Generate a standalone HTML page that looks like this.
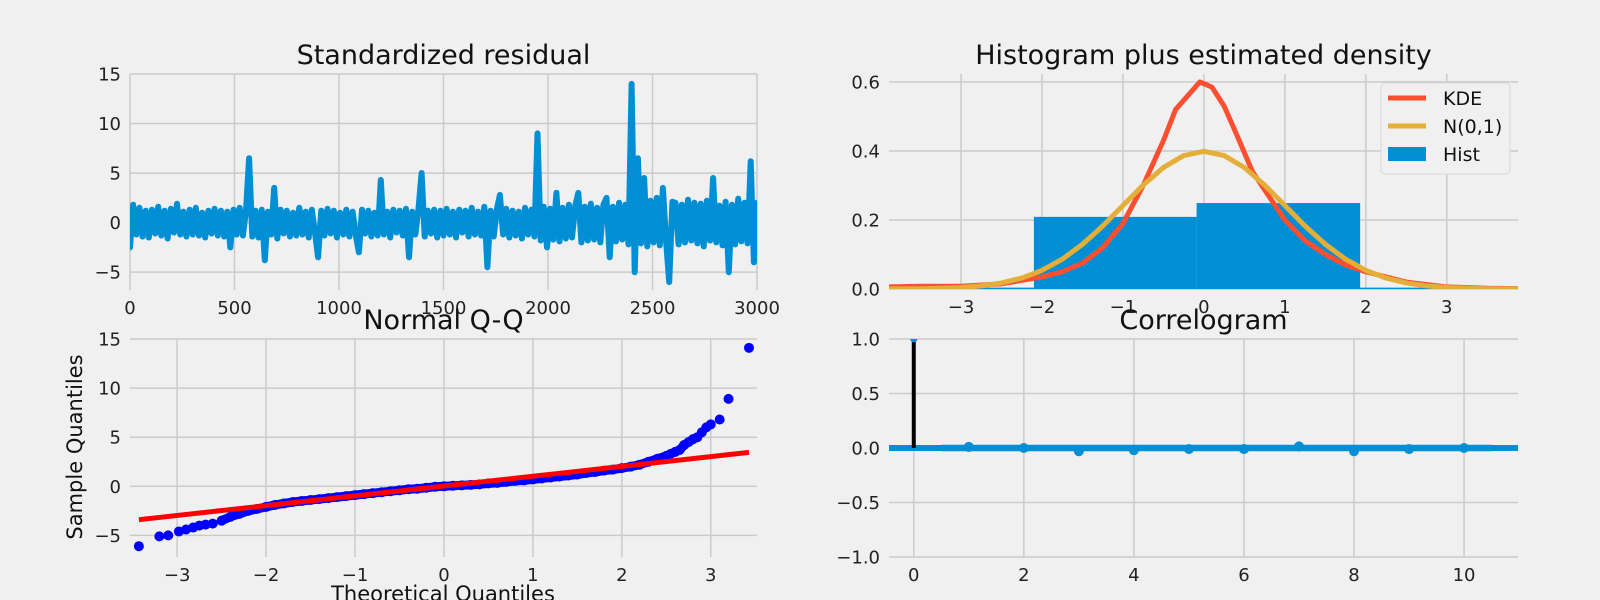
<!DOCTYPE html>
<html><head><meta charset="utf-8"><style>
html,body{margin:0;padding:0;background:#f0f0f0;}
svg{display:block;font-family:"DejaVu Sans","Liberation Sans",sans-serif;}
</style></head><body>
<svg id="fig" width="1600" height="600" viewBox="0 0 1600 600"></svg>
<script>
// ---- data ----
const residStep = 15;
const residVals = [-2.5,1.8,-1.2,1.5,-1.4,1.2,-1.5,1.3,-1.1,1.6,
-1.3,1.2,-1.6,1.4,-1.0,1.9,-1.2,1.1,-1.4,1.3,
-1.2,1.5,-1.3,1.0,-1.5,1.2,-1.1,1.4,-1.3,1.2,
-1.4,1.1,-2.5,1.3,-1.2,1.5,-1.3,1.2,6.5,-1.4,
1.2,-1.5,1.3,-3.8,1.1,-1.2,3.5,-1.6,1.3,-1.1,
1.2,-1.4,1.0,-1.3,1.5,-1.2,1.1,-1.5,1.3,-1.0,
-3.5,1.2,-1.3,1.4,-1.1,1.2,-1.5,1.0,-1.2,1.3,
-1.4,1.1,-1.2,-3.0,1.3,-1.1,1.2,-1.4,1.0,-1.3,
4.3,-1.2,1.1,-1.5,1.3,-1.0,1.2,-1.3,1.4,-3.5,
1.1,-1.2,1.3,5.0,-1.4,1.2,-1.1,1.3,-1.5,1.2,
-1.3,1.4,-1.2,1.1,-1.5,1.3,-1.0,1.2,-1.4,1.5,
-1.2,1.1,-1.3,1.6,-4.5,1.2,-1.4,1.3,2.8,-1.2,
1.4,-1.5,1.2,-1.3,1.1,-1.6,1.5,-1.2,1.3,-1.4,
9.0,-1.8,1.6,-2.5,1.4,-1.7,3.0,-1.9,1.5,-1.6,
1.8,-1.5,1.7,3.0,-2.0,1.6,-1.8,1.9,-1.7,1.5,
-2.0,1.8,2.5,-3.5,1.6,-1.9,2.0,-1.7,1.8,-2.2,
14.0,-5.0,6.5,-2.1,4.5,-2.4,2.2,-2.0,2.5,-2.3,
3.5,-1.9,-6.0,2.1,2.0,-2.2,1.8,-2.0,2.3,-1.8,
2.0,-2.1,1.9,-2.4,2.2,-1.8,4.5,-2.0,1.7,-2.3,
2.1,-5.0,1.8,-2.2,2.4,-1.9,2.0,-2.1,6.2,-4.0,
2.0];
const residXTicks = [0,500,1000,1500,2000,2500,3000];
const residYTicks = [-5,0,5,10,15];

const histEdges = [-4.12,-2.1,-0.09,1.93,3.94];
const histDens = [0.004,0.209,0.249,0.004];
const kdeX = [-3.9,-3.5,-3,-2.5,-2,-1.75,-1.5,-1.25,-1,-0.75,-0.5,-0.35,-0.2,-0.05,0.1,0.25,0.4,0.6,0.8,1,1.25,1.5,1.75,2,2.5,3,3.5,3.9];
const kdeY = [0.006,0.008,0.008,0.015,0.035,0.05,0.075,0.12,0.19,0.3,0.43,0.52,0.56,0.6,0.585,0.53,0.45,0.34,0.27,0.2,0.14,0.1,0.07,0.05,0.02,0.006,0.002,0.001];
const normX = [-4,-3.75,-3.5,-3.25,-3,-2.75,-2.5,-2.25,-2,-1.75,-1.5,-1.25,-1,-0.75,-0.5,-0.25,0,0.25,0.5,0.75,1,1.25,1.5,1.75,2,2.25,2.5,2.75,3,3.25,3.5,3.75,4];
const normY = [0.0001,0.0004,0.0009,0.002,0.0044,0.0091,0.0175,0.0317,0.054,0.0863,0.1295,0.1826,0.242,0.3011,0.3521,0.3867,0.3989,0.3867,0.3521,0.3011,0.242,0.1826,0.1295,0.0863,0.054,0.0317,0.0175,0.0091,0.0044,0.002,0.0009,0.0004,0.0001];
const histXTicks = [-3,-2,-1,0,1,2,3];
const histYTicks = [0.0,0.2,0.4,0.6];

const qqTheo = [-3.43,-3.2,-3.1,-2.98,-2.9,-2.82,-2.75,-2.68,-2.6,-2.5,-2.4,-2.3,-2.2,-2.1,-2.0,-1.9,-1.8,-1.7,-1.6,-1.5,-1.4,-1.3,-1.2,-1.1,-1.0,-0.9,-0.8,-0.7,-0.6,-0.5,-0.4,-0.3,-0.2,-0.1,0,0.1,0.2,0.3,0.4,0.5,0.6,0.7,0.8,0.9,1.0,1.1,1.2,1.3,1.4,1.5,1.6,1.7,1.8,1.9,2.0,2.1,2.2,2.3,2.4,2.5,2.55,2.6,2.65,2.7,2.75,2.8,2.85,2.9,2.95,3.0,3.1,3.2,3.43];
const qqSample = [-6.1,-5.1,-5.0,-4.6,-4.4,-4.2,-4.0,-3.9,-3.8,-3.5,-3.1,-2.8,-2.5,-2.3,-2.1,-1.9,-1.75,-1.6,-1.5,-1.4,-1.3,-1.2,-1.1,-1.0,-0.9,-0.8,-0.7,-0.6,-0.5,-0.4,-0.3,-0.25,-0.15,-0.05,0.0,0.05,0.1,0.15,0.2,0.3,0.35,0.45,0.55,0.6,0.7,0.8,0.9,1.0,1.1,1.2,1.35,1.45,1.6,1.7,1.85,2.0,2.2,2.5,2.8,3.1,3.3,3.5,3.7,4.2,4.5,4.8,5.0,5.5,6.0,6.3,6.8,8.9,14.1];
const qqLineX = [-3.43,3.43];
const qqLineY = [-3.4,3.45];
const qqXTicks = [-3,-2,-1,0,1,2,3];
const qqYTicks = [-5,0,5,10,15];

const acfLags = [0,1,2,3,4,5,6,7,8,9,10];
const acfVals = [1,0.01,0.0,-0.03,-0.02,-0.01,-0.01,0.015,-0.03,-0.01,0.0];
const acfConf = 0.036;
const acfXTicks = [0,2,4,6,8,10];
const acfYTicks = [-1.0,-0.5,0.0,0.5,1.0];

// ---- helpers ----
const NS = 'http://www.w3.org/2000/svg';
const svg = document.getElementById('fig');
function mk(tag, attrs, parent){const e=document.createElementNS(NS,tag);for(const k in attrs)e.setAttribute(k,attrs[k]);(parent||svg).appendChild(e);return e;}
function lin(d0,d1,r0,r1){return v=>r0+(v-d0)/(d1-d0)*(r1-r0);}
const GRID='#cbcbcb', BLUE='#008fd5', RED='#fc4f30', YEL='#e5ae38';
let clipN=0;
function axes(name, L,R,T,B, xd0,xd1,yd0,yd1, xt, yt, xfmt, yfmt, title){
  const g=mk('g',{});
  
  
  const sx=lin(xd0,xd1,L,R), sy=lin(yd0,yd1,B,T);
  const id='c'+(clipN++);
  const cp=mk('clipPath',{id:id},g); mk('rect',{x:L,y:T,width:R-L,height:B-T},cp);
  const grid=mk('g',{},g);
  
  
  xt.forEach(v=>{const x=sx(v);mk('line',{x1:x,x2:x,y1:T,y2:B,stroke:GRID,'stroke-width':1.5},grid);
    const t=mk('text',{x:x,y:B+24,'font-size':18,'text-anchor':'middle',fill:'#222'},g);t.textContent=xfmt(v);
    
    });
  yt.forEach(v=>{const y=sy(v);mk('line',{x1:L,x2:R,y1:y,y2:y,stroke:GRID,'stroke-width':1.5},grid);
    const t=mk('text',{x:L-9,y:y+6.5,'font-size':18,'text-anchor':'end',fill:'#222'},g);t.textContent=yfmt(v);
    
    });
  const tt=mk('text',{x:(L+R)/2,y:T-10,'font-size':27,'text-anchor':'middle',fill:'#111'},g);tt.textContent=title;
  
  
  const plot=mk('g',{'clip-path':'url(#'+id+')'},g);
  
  
  return {sx,sy,plot,g};
}
const fmtMinus=v=>String(v).replace('-','\u2212');
const fmt1=v=>fmtMinus(v.toFixed(1));

// ---- panel 1: standardized residual ----
(function(){
  const a=axes('residual-panel',130,757,74,290,0,3000,-6.8,15,residXTicks,residYTicks,fmtMinus,fmtMinus,'Standardized residual');
  const pts=residVals.map((v,i)=>a.sx(i*residStep).toFixed(1)+','+a.sy(v).toFixed(1)).join(' ');
  const p=mk('polyline',{points:pts,fill:'none',stroke:BLUE,'stroke-width':6,'stroke-linejoin':'round','stroke-linecap':'round'},a.plot);
  
  
})();

// ---- panel 2: histogram ----
(function(){
  const a=axes('histogram-panel',889,1518,74,289,-3.89,3.88,0,0.623,histXTicks,histYTicks,fmtMinus,fmt1,'Histogram plus estimated density');
  histDens.forEach((d,i)=>{
    const x0=a.sx(histEdges[i]),x1=a.sx(histEdges[i+1]),y=a.sy(d);
    const r=mk('rect',{x:x0,y:y,width:x1-x0,height:a.sy(0)-y,fill:BLUE},a.plot);
    
    
  });
  const k=mk('polyline',{points:kdeX.map((x,i)=>a.sx(x)+','+a.sy(kdeY[i])).join(' '),fill:'none',stroke:RED,'stroke-width':5,'stroke-linejoin':'round'},a.plot);
  
  
  const n=mk('polyline',{points:normX.map((x,i)=>a.sx(x)+','+a.sy(normY[i])).join(' '),fill:'none',stroke:YEL,'stroke-width':5,'stroke-linejoin':'round'},a.plot);
  
  
  const lg=mk('g',{},a.g);
  
  
  mk('rect',{x:1381,y:83,width:129,height:91,rx:4,fill:'#f0f0f0',stroke:'#d8d8d8','stroke-width':1},lg);
  const items=[['KDE',RED,'line'],['N(0,1)',YEL,'line'],['Hist',BLUE,'patch']];
  items.forEach((it,i)=>{
    const y=98+i*28;
    const e=mk('g',{},lg);
    
    
    if(it[2]==='line') mk('line',{x1:1388,x2:1426,y1:y,y2:y,stroke:it[1],'stroke-width':5},e);
    else mk('rect',{x:1388,y:y-7,width:38,height:14,fill:it[1]},e);
    const t=mk('text',{x:1443,y:y+7,'font-size':19,fill:'#111'},e);t.textContent=it[0];
  });
})();

// ---- panel 3: Q-Q ----
(function(){
  const a=axes('qq-panel',130,757,339,557,-3.53,3.52,-7.2,15,qqXTicks,qqYTicks,fmtMinus,fmtMinus,'Normal Q-Q');
  const band=mk('polyline',{points:qqTheo.map((x,i)=>a.sx(x)+','+a.sy(qqSample[i])).slice(9,66).join(' '),fill:'none',stroke:'#0000ff','stroke-width':9,'stroke-linejoin':'round'},a.plot);
  
  
  qqTheo.forEach((x,i)=>{
    const c=mk('circle',{cx:a.sx(x),cy:a.sy(qqSample[i]),r:5,fill:'#0000ff'},a.plot);
    
    
  });
  const l=mk('line',{x1:a.sx(qqLineX[0]),y1:a.sy(qqLineY[0]),x2:a.sx(qqLineX[1]),y2:a.sy(qqLineY[1]),stroke:'#ff0000','stroke-width':5},a.plot);
  
  
  const xl=mk('text',{x:443,y:601,'font-size':21,'text-anchor':'middle',fill:'#111'},a.g);xl.textContent='Theoretical Quantiles';
  
  
  const yl=mk('text',{x:0,y:0,'font-size':21,'text-anchor':'middle',fill:'#111',transform:'translate(82,447) rotate(-90)'},a.g);yl.textContent='Sample Quantiles';
  
  
})();

// ---- panel 4: correlogram ----
(function(){
  const a=axes('correlogram-panel',889,1518,339,557,-0.45,10.98,-1,1,acfXTicks,acfYTicks,fmtMinus,fmt1,'Correlogram');
  const band=mk('rect',{x:a.sx(0.5),y:a.sy(acfConf),width:a.sx(10.5)-a.sx(0.5),height:a.sy(-acfConf)-a.sy(acfConf),fill:BLUE,opacity:0.25},a.plot);
  
  
  const h=mk('line',{x1:889,x2:1518,y1:a.sy(0),y2:a.sy(0),stroke:BLUE,'stroke-width':6},a.plot);
  
  
  acfLags.forEach((lag,i)=>{
    const x=a.sx(lag);
    const s=mk('line',{x1:x,x2:x,y1:a.sy(0),y2:a.sy(acfVals[i]),stroke:i===0?'#000':BLUE,'stroke-width':4},a.plot);
    
    
    const c=mk('circle',{cx:x,cy:a.sy(acfVals[i]),r:i===0?3.5:5,fill:BLUE},a.plot);
    
    
  });
})();
</script>
</body></html>
